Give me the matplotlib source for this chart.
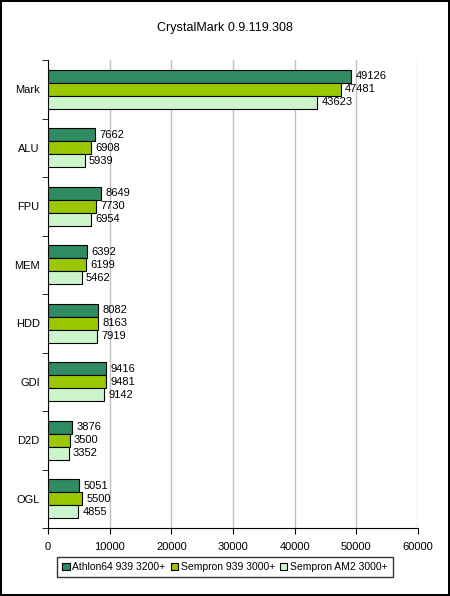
import numpy as np
import matplotlib.pyplot as plt

plt.rcParams['font.family'] = ['Liberation Sans', 'DejaVu Sans']

categories = ['Mark', 'ALU', 'FPU', 'MEM', 'HDD', 'GDI', 'D2D', 'OGL']
series_names = ['Athlon64 939 3200+', 'Sempron 939 3000+', 'Sempron AM2 3000+']
athlon = [49126, 7662, 8649, 6392, 8082, 9416, 3876, 5051]
sempron939 = [47481, 6908, 7730, 6199, 8163, 9481, 3500, 5500]
sempron_am2 = [43623, 5939, 6954, 5462, 7919, 9142, 3352, 4855]
colors = ['#2e8b62', '#99c800', '#ccf5cc']

fig = plt.figure(figsize=(4.5, 5.96), dpi=100)
fig.patch.set_edgecolor('black')
fig.patch.set_linewidth(1.5)
ax = fig.add_axes([48 / 450, 1 - 528 / 596, 370 / 450, 468 / 596])

y = np.arange(len(categories))
h = 0.22
for i, (vals, name) in enumerate(zip([athlon, sempron939, sempron_am2], series_names)):
    pos = y + (i - 1) * h
    ax.barh(pos, vals, height=h, color=colors[i], edgecolor='black', linewidth=0.8, label=name, zorder=3)
    for p, v in zip(pos, vals):
        ax.text(v + 700, p, str(v), va='center', ha='left', fontsize=8, zorder=4)

ax.set_xlim(0, 60000)
ax.set_ylim(len(categories) - 0.5, -0.5)
ax.set_xticks(range(0, 60001, 10000))
ax.set_yticks(y)
ax.set_yticklabels(categories)
ax.set_yticks(np.arange(-0.5, len(categories), 1), minor=True)
ax.tick_params(axis='y', which='major', length=0, labelsize=8, pad=6)
ax.tick_params(axis='y', which='minor', length=4, direction='out')
ax.tick_params(axis='x', labelsize=8, length=4, direction='out', pad=6)
ax.grid(axis='x', color='#c0c0c0', linewidth=1, zorder=0)
for s in ['top', 'right']:
    ax.spines[s].set_visible(False)

fig.text(0.5, 1 - 28 / 596, 'CrystalMark 0.9.119.308', ha='center', va='center', fontsize=9)

fig.legend(loc='center', bbox_to_anchor=(0.5, 1 - 567 / 596), ncol=3, fontsize=7.5,
           frameon=True, fancybox=False, edgecolor='black', handlelength=0.7,
           handleheight=0.7, handletextpad=0.25, columnspacing=0.5, borderpad=0.5)

fig.savefig('out.png', dpi=100)
